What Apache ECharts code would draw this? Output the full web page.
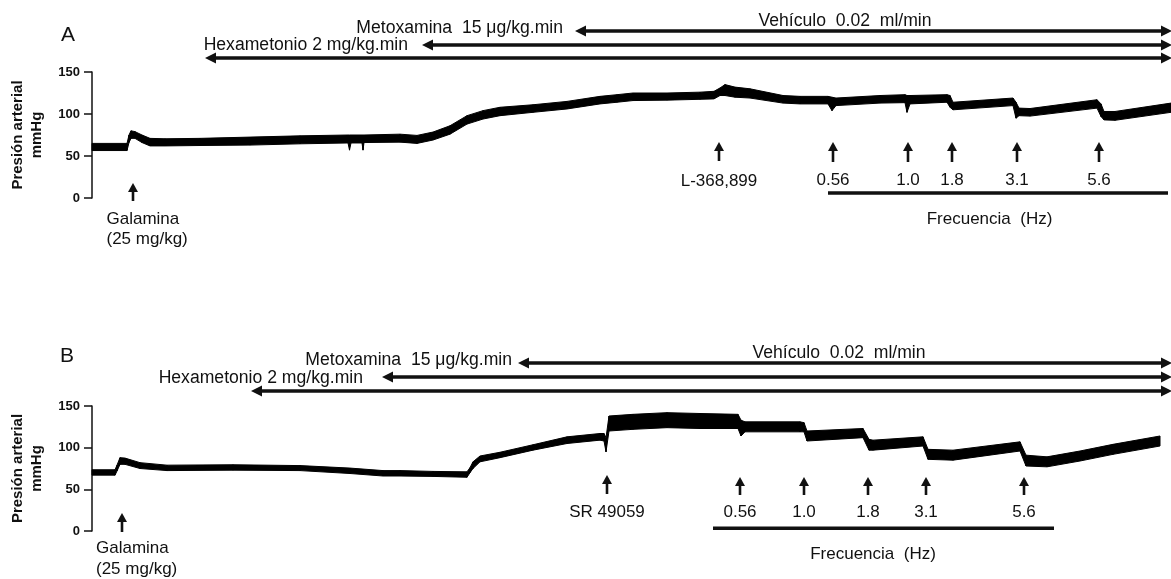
<!DOCTYPE html>
<html>
<head>
<meta charset="utf-8">
<script src="https://cdn.jsdelivr.net/npm/echarts@6.0.0/dist/echarts.min.js"></script>
<style>
  html, body { margin: 0; padding: 0; background: #fff; }
  #chart { width: 1171px; height: 579px; }
</style>
</head>
<body>
<div id="chart"></div>
<script>
// ---- Recording A: arterial pressure envelope (time in min, pressure in mmHg) ----
const timeA = [0, 3.5, 3.7, 3.9, 4.3, 5.0, 5.8, 7.3, 10.8, 15.8, 20.8, 25.6, 25.75, 25.9, 27.0, 27.1, 27.2, 30.8, 32.5, 34.1,
  35.8, 37.5, 39.1, 40.8, 44.1, 47.5, 50.8, 52.5, 54.1, 57.5, 60.8, 62.2, 62.8, 63.3, 64.3, 65.8, 69.1, 70.8, 73.6, 74.0,
  74.4, 78.8, 81.3, 81.5, 81.8, 85.5, 85.8, 86.1, 92.1, 92.4, 92.7, 93.8, 100.5, 100.9, 101.2, 102.3, 107.9];
const lowA = [56.5, 56.5, 66, 71, 71, 66, 62, 62, 62.5, 63, 64.5, 65.5, 57, 65.5, 65.5, 57, 66, 66.5, 65, 69,
  76, 88, 94, 98, 102, 106, 112, 114, 116, 116.5, 117.5, 118, 122, 122, 120, 119, 113, 112, 112, 104,
  110, 113, 113.5, 102, 112, 114, 108, 105, 110, 95, 98, 97.5, 107, 97, 93, 92.5, 102];
const highA = [65, 65, 75, 80, 79, 75, 71, 70.5, 71, 72.5, 74, 75, 75, 75, 75, 75, 75, 76, 74.5, 78.5,
  86, 98, 104, 108, 111, 115, 121, 123, 125, 125, 126, 127, 131, 135, 132, 130, 122, 121, 121, 120,
  119, 122, 123, 122, 122, 123, 122, 114, 119, 114, 107, 106.5, 117, 112, 103, 103, 113];

// ---- Recording B ----
const timeB = [0, 2.3, 2.5, 2.8, 3.3, 4.8, 7.5, 14.1, 20.8, 25.8, 29.1, 30.8, 34.1, 37.5, 37.8, 38.1, 38.8, 40.8, 44.1, 47.5,
  50.8, 51.2, 51.4, 51.7, 54.1, 57.5, 60.8, 64.6, 64.9, 65.3, 70.8, 71.2, 71.5, 77.1, 77.7, 78.1, 83.1, 83.6, 86.1, 92.8,
  93.4, 95.5, 98.8, 102.1, 106.8];
const lowB = [67, 67, 72, 80, 80, 75, 72.5, 73, 72.5, 69, 66, 66, 65.5, 64.5, 70, 75, 83, 88, 97, 105,
  109, 108, 95, 120, 122, 124, 123, 123, 114, 119, 119, 119, 108, 112, 97, 97, 102, 86, 85, 96,
  78, 77, 84, 92, 102];
const highB = [73.5, 73.5, 79, 88, 87.5, 82, 79, 79.5, 78.5, 75.5, 72.5, 72.5, 71.5, 71, 76, 83, 90, 94.5, 103.5, 113,
  117, 117, 112, 138, 140, 142, 141, 140, 133, 131, 131, 130, 120, 123, 110, 109, 113, 98, 97, 107,
  91, 89, 96, 104, 114];

// ---- Axis ticks ----
const pressureTicks = [0, 50, 100, 150];

// ---- Stimulation frequencies (Hz) and times of each train ----
const freqLabels = ['0.56', '1.0', '1.8', '3.1', '5.6'];
const stimTimesA = [74.1, 81.6, 86.0, 92.5, 100.7];
const stimTimesB = [64.8, 71.2, 77.6, 83.4, 93.2];
const freqSpanA = [73.6, 107.6];
const freqSpanB = [62.1, 96.2];
const freqTitleTimeA = 89.75;
const freqTitleTimeB = 78.1;

// ---- Drug administration ----
const galaminaLabel = ['Galamina', '(25 mg/kg)'];
const galaminaTimeA = 4.1;
const galaminaTimeB = 3.0;
const antagonistLabelA = 'L-368,899';
const antagonistTimeA = 62.7;
const antagonistLabelB = 'SR 49059';
const antagonistTimeB = 51.5;

// ---- Continuous infusions (start time of each line; all run to end of record) ----
const infusionLabels = ['Metoxamina  15 μg/kg.min', 'Hexametonio 2 mg/kg.min'];
const vehicleLabel = 'Vehículo  0.02  ml/min';
const infusionStartA = [48.3, 33.0, 11.3];
const infusionStartB = [42.6, 29.0, 15.9];
const infusionLabelEndA = [47.1, 31.6];
const infusionLabelEndB = [42.0, 27.1];
const vehicleLabelTimeA = 75.3;
const vehicleLabelTimeB = 74.7;
const recordEnd = 108;

// ---------------------------------------------------------------------------
const FONT = '"Liberation Sans", Arial, Helvetica, sans-serif';
const INK = '#111';

const chart = echarts.init(document.getElementById('chart'), null, { renderer: 'canvas' });

function bandSeries(idx, t, lo, hi) {
  const data = [];
  for (let i = 0; i < t.length - 1; i++) {
    data.push([t[i], lo[i], hi[i], t[i + 1], lo[i + 1], hi[i + 1]]);
  }
  return {
    type: 'custom',
    coordinateSystem: 'cartesian2d',
    xAxisIndex: idx,
    yAxisIndex: idx,
    silent: true,
    animation: false,
    encode: { x: [0, 3], y: [1, 2, 4, 5] },
    renderItem(params, api) {
      const a = api.coord([api.value(0), api.value(2)]);
      const b = api.coord([api.value(3), api.value(5)]);
      const c = api.coord([api.value(3), api.value(4)]);
      const d = api.coord([api.value(0), api.value(1)]);
      return {
        type: 'polygon',
        shape: { points: [a, b, c, d] },
        style: { fill: '#000', stroke: '#000', lineWidth: 1 }
      };
    },
    data
  };
}

function yAxisFor(idx) {
  return {
    gridIndex: idx,
    type: 'value',
    min: pressureTicks[0],
    max: pressureTicks[pressureTicks.length - 1],
    interval: pressureTicks[1] - pressureTicks[0],
    axisLine: { show: true, lineStyle: { color: INK, width: 1.5 } },
    axisTick: { show: true, length: 8, lineStyle: { color: INK, width: 1.5 } },
    axisLabel: { color: INK, fontFamily: FONT, fontSize: 13, fontWeight: 'bold', margin: 12 },
    splitLine: { show: false },
    name: 'Presión arterial\nmmHg',
    nameLocation: 'middle',
    nameRotate: 90,
    nameGap: 46,
    nameTextStyle: { color: INK, fontFamily: FONT, fontSize: 15, fontWeight: 'bold', lineHeight: 19 }
  };
}

function xAxisFor(idx) {
  return { gridIndex: idx, type: 'value', min: 0, max: recordEnd, show: false };
}

chart.setOption({
  animation: false,
  backgroundColor: '#fff',
  grid: [
    { left: 92, top: 72, width: 1080, height: 126, outerBoundsMode: 'none' },
    { left: 92, top: 406, width: 1080, height: 125, outerBoundsMode: 'none' }
  ],
  xAxis: [xAxisFor(0), xAxisFor(1)],
  yAxis: [yAxisFor(0), yAxisFor(1)],
  series: [
    bandSeries(0, timeA, lowA, highA),
    bandSeries(1, timeB, lowB, highB)
  ]
});

// ---- Annotations placed through the axes' own scales ----
function px(idx, t) { return chart.convertToPixel({ xAxisIndex: idx }, t); }
function py(idx, v) { return chart.convertToPixel({ yAxisIndex: idx }, v); }

function text(str, x, y, align, size) {
  const s = size || 17;
  return {
    type: 'text', x, y, silent: true,
    style: {
      text: str, fill: INK, font: s + 'px ' + FONT,
      align: align || 'center', verticalAlign: 'middle',
      textAlign: align || 'center', textVerticalAlign: 'middle'
    }
  };
}

function upArrow(x, yTip, yTail) {
  return [
    { type: 'line', silent: true, shape: { x1: x, y1: yTip + 6, x2: x, y2: yTail }, style: { stroke: INK, lineWidth: 2.6 } },
    { type: 'polygon', silent: true, shape: { points: [[x, yTip], [x - 5, yTip + 9], [x + 5, yTip + 9]] }, style: { fill: INK } }
  ];
}

function infusionLine(x1, x2, y) {
  return [
    { type: 'line', silent: true, shape: { x1: x1 + 8, y1: y, x2: x2 - 8, y2: y }, style: { stroke: INK, lineWidth: 3.3 } },
    { type: 'polygon', silent: true, shape: { points: [[x1, y], [x1 + 11, y - 5.5], [x1 + 11, y + 5.5]] }, style: { fill: INK } },
    { type: 'polygon', silent: true, shape: { points: [[x2, y], [x2 - 11, y - 5.5], [x2 - 11, y + 5.5]] }, style: { fill: INK } }
  ];
}

// vertical offsets (px) from each panel's 0 mmHg line
const layoutA = {
  letter: 'A', letterX: 61, letterY: 35,
  infY: [-167, -153, -140], vehDy: -9.5, metDy: -2.5, hexDy: 0.5,
  galTip: -15, galTail: 3, galText: [21, 41], galDx: -26.5,
  drugTip: -56, drugTail: -37, drugText: -17,
  freqTip: -56, freqTail: -36, freqText: -18, barDy: -5, titleDy: 21
};
const layoutB = {
  letter: 'B', letterX: 60, letterY: 356,
  infY: [-168, -154, -140], vehDy: -9.5, metDy: -3, hexDy: 1,
  galTip: -18, galTail: 1, galText: [17, 38], galDx: -26,
  drugTip: -56, drugTail: -37, drugText: -18.5,
  freqTip: -54, freqTail: -36, freqText: -18.5, barDy: -2.7, titleDy: 23
};
const infusionFontSize = 17.6;

function panelGraphics(idx, L, d) {
  const els = [];
  const y0 = py(idx, 0);
  const xEnd = px(idx, recordEnd);
  els.push(text(L.letter, L.letterX, L.letterY, 'left', 21));

  // infusion lines
  d.infStart.forEach((t, i) => {
    els.push(...infusionLine(px(idx, t), xEnd, y0 + L.infY[i]));
  });
  els.push(text(vehicleLabel, px(idx, d.vehT), y0 + L.infY[0] + L.vehDy, 'center', infusionFontSize));
  els.push(text(infusionLabels[0], px(idx, d.labelEnd[0]), y0 + L.infY[0] + L.metDy, 'right', infusionFontSize));
  els.push(text(infusionLabels[1], px(idx, d.labelEnd[1]), y0 + L.infY[1] + L.hexDy, 'right', infusionFontSize));

  // galamina
  const gx = px(idx, d.galT);
  els.push(...upArrow(gx, y0 + L.galTip, y0 + L.galTail));
  els.push(text(galaminaLabel[0], gx + L.galDx, y0 + L.galText[0], 'left'));
  els.push(text(galaminaLabel[1], gx + L.galDx, y0 + L.galText[1], 'left'));

  // antagonist
  const ax = px(idx, d.antT);
  els.push(...upArrow(ax, y0 + L.drugTip, y0 + L.drugTail));
  els.push(text(d.antLabel, ax, y0 + L.drugText, 'center'));

  // stimulation trains
  d.stim.forEach((t, i) => {
    const sx = px(idx, t);
    els.push(...upArrow(sx, y0 + L.freqTip, y0 + L.freqTail));
    els.push(text(freqLabels[i], sx, y0 + L.freqText, 'center'));
  });
  const barY = y0 + L.barDy;
  els.push({ type: 'line', silent: true,
    shape: { x1: px(idx, d.span[0]), y1: barY, x2: px(idx, d.span[1]), y2: barY },
    style: { stroke: INK, lineWidth: 3.4 } });
  els.push(text('Frecuencia  (Hz)', px(idx, d.titleT), y0 + L.titleDy, 'center'));
  return els;
}

const elements = [].concat(
  panelGraphics(0, layoutA, {
    infStart: infusionStartA, labelEnd: infusionLabelEndA, vehT: vehicleLabelTimeA,
    galT: galaminaTimeA, antT: antagonistTimeA, antLabel: antagonistLabelA,
    stim: stimTimesA, span: freqSpanA, titleT: freqTitleTimeA
  }),
  panelGraphics(1, layoutB, {
    infStart: infusionStartB, labelEnd: infusionLabelEndB, vehT: vehicleLabelTimeB,
    galT: galaminaTimeB, antT: antagonistTimeB, antLabel: antagonistLabelB,
    stim: stimTimesB, span: freqSpanB, titleT: freqTitleTimeB
  })
);

chart.setOption({ graphic: { elements } });
</script>
</body>
</html>
